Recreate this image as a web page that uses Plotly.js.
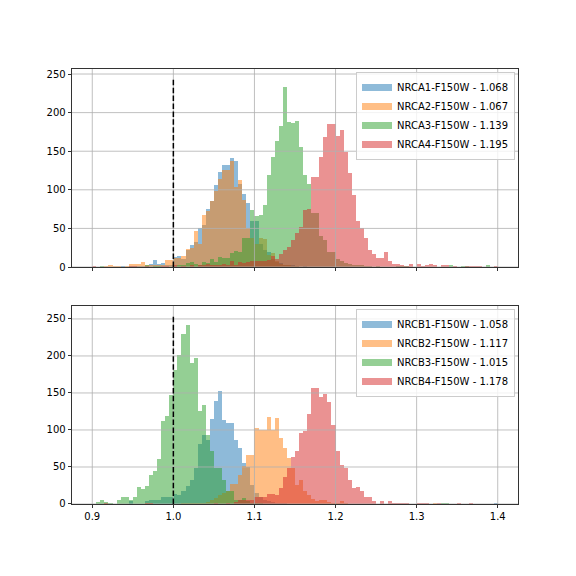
<!DOCTYPE html>
<html>
<head>
<meta charset="utf-8">
<script src="https://cdn.plot.ly/plotly-3.0.1.min.js"></script>
<style>html,body{margin:0;padding:0;background:#fff}#chart{width:576px;height:576px}</style>
</head>
<body>
<div id="chart"></div>
<script>
// ---- bin definition (shared by all histograms) ----
const binStart = 0.9;
const binWidth = 0.005;

// ---- legend labels ----
const labelsTop = ["NRCA1-F150W - 1.068", "NRCA2-F150W - 1.067", "NRCA3-F150W - 1.139", "NRCA4-F150W - 1.195"];
const labelsBottom = ["NRCB1-F150W - 1.058", "NRCB2-F150W - 1.117", "NRCB3-F150W - 1.015", "NRCB4-F150W - 1.178"];

// ---- counts per bin, top panel ----
const countsA1 = [
  0,0,0,0,0,0,0,1,0,1,
  1,1,1,1,4,9,4,5,3,3,
  13,14,10,22,28,32,50,55,75,85,
  106,123,132,132,141,137,108,94,83,60,
  60,30,22,20,10,6,5,3,2,2,
  1,0,1,0,0,0,0,0,0,0,
  0,0,0,0,0,0,0,0,0,0,
  0,0,0,0,0,0,0,0,0,0,
  0,0,0,0,0,0,0,0,0,0,
  0,0,0,0,0,0,0,0,0,0];
const countsA2 = [
  0,0,0,1,3,1,1,0,1,4,
  4,4,6,3,2,3,2,3,9,9,
  12,12,14,23,25,47,30,68,72,85,
  99,114,126,126,137,104,113,87,50,38,
  30,37,36,15,18,8,4,3,2,1,
  1,0,0,0,0,0,0,0,0,0,
  0,0,0,0,0,0,0,0,0,0,
  0,0,0,0,0,0,0,0,0,0,
  0,0,0,0,0,0,0,0,0,0,
  0,0,0,0,0,0,0,0,0,0];
const countsA3 = [
  0,0,1,0,0,0,0,0,0,0,
  0,0,0,2,0,1,1,0,0,0,
  1,3,3,5,7,4,3,6,5,10,
  6,13,12,12,18,21,20,37,37,74,
  66,67,80,119,143,163,183,233,188,186,
  189,155,119,108,70,70,40,35,20,19,
  10,8,5,4,3,2,2,1,1,0,
  1,0,0,0,0,1,1,1,0,0,
  0,0,0,0,0,0,0,0,3,0,
  0,1,1,0,0,0,0,3,0,0];
const countsA4 = [
  1,0,0,0,0,0,0,0,0,1,
  1,0,0,1,0,0,0,1,1,0,
  3,0,1,0,2,0,3,2,4,3,
  3,2,4,3,8,3,7,5,7,8,
  8,8,8,9,14,10,17,22,26,35,
  44,52,74,75,116,116,143,168,185,185,
  170,177,149,122,93,59,50,37,22,17,
  12,12,20,8,4,4,3,1,4,0,
  4,1,2,4,2,0,3,3,0,1,
  0,0,1,1,1,1,0,0,0,1];

// ---- counts per bin, bottom panel ----
const countsB1 = [
  0,0,0,0,0,0,0,0,0,4,
  0,0,0,4,5,5,5,9,9,9,
  13,12,17,24,32,49,81,93,87,115,
  139,153,114,109,109,86,76,55,50,25,
  15,10,6,4,3,2,2,1,0,0,
  0,0,0,0,0,0,0,0,0,0,
  0,0,0,0,0,0,0,0,0,0,
  0,0,0,0,0,0,0,0,0,0,
  0,0,0,0,0,0,0,0,0,0,
  0,0,0,0,0,0,0,0,0,1];
const countsB2 = [
  0,0,0,1,0,0,0,0,0,0,
  0,0,0,1,1,0,0,0,0,0,
  0,0,1,1,1,1,1,2,3,5,
  8,12,15,18,27,27,39,51,66,66,
  103,100,100,118,100,116,89,76,62,49,
  26,32,18,12,7,4,5,5,3,2,
  1,4,1,0,0,0,0,0,0,0,
  0,0,0,0,0,0,0,0,0,0,
  0,0,0,0,1,0,0,0,0,0,
  0,0,0,0,0,0,0,0,0,0];
const countsB3 = [
  0,3,5,3,1,0,5,9,9,5,
  9,23,20,24,39,45,61,112,119,147,
  181,201,230,242,191,197,126,134,93,72,
  49,49,32,18,18,5,5,8,4,2,
  1,1,0,0,0,0,0,0,0,0,
  0,0,0,0,0,0,0,0,0,0,
  0,0,0,0,0,0,0,0,0,0,
  0,0,0,0,0,0,0,0,0,0,
  0,0,0,0,0,0,1,1,0,0,
  0,0,0,0,0,0,0,0,0,0];
const countsB4 = [
  0,0,0,1,0,0,0,0,0,0,
  0,0,0,1,1,0,0,0,0,0,
  0,0,0,0,0,0,0,0,0,0,
  1,0,0,2,0,3,5,5,5,5,
  9,9,9,14,14,12,22,36,49,64,
  72,96,99,122,157,157,145,149,138,107,
  72,53,49,32,22,23,18,9,9,4,
  0,4,0,4,1,2,2,1,0,0,
  1,1,1,0,0,1,0,0,0,0,
  1,0,0,1,0,0,0,0,0,0];

// ---- reference line and axes ----
const refValue = 1.0;
const refTopA = 243.5;
const refTopB = 254;
const xTicks = [0.9, 1.0, 1.1, 1.2, 1.3, 1.4];
const yTicks = [0, 50, 100, 150, 200, 250];

const colors = ["#1f77b4", "#ff7f0e", "#2ca02c", "#d62728"];
const FONT = "DejaVu Sans, sans-serif";

const centers = countsA1.map((_, i) => binStart + binWidth * (i + 0.5));

function hexA(hex, a) {
  const r = parseInt(hex.slice(1,3),16), g = parseInt(hex.slice(3,5),16), b = parseInt(hex.slice(5,7),16);
  return `rgba(${r},${g},${b},${a})`;
}

const traces = [];
const panels = [
  {counts: [countsA1, countsA2, countsA3, countsA4], labels: labelsTop, xa: "x", ya: "y", legend: "legend"},
  {counts: [countsB1, countsB2, countsB3, countsB4], labels: labelsBottom, xa: "x2", ya: "y2", legend: "legend2"}
];
panels.forEach(p => {
  p.counts.forEach((c, k) => {
    traces.push({
      type: "bar", x: centers, y: c, width: binWidth,
      xaxis: p.xa, yaxis: p.ya,
      marker: {color: colors[k], line: {width: 0}},
      opacity: 0.5, showlegend: false, hoverinfo: "skip"
    });
  });
  // legend handles
  p.counts.forEach((c, k) => {
    traces.push({
      type: "scatter", mode: "lines", x: [null], y: [null],
      xaxis: p.xa, yaxis: p.ya, name: p.labels[k], legend: p.legend,
      line: {color: hexA(colors[k], 0.5), width: 7}, showlegend: true
    });
  });
});

// grid + reference line as shapes drawn above bars
const shapes = [];
[["x","y",refTopA],["x2","y2",refTopB]].forEach(([xa, ya, top]) => {
  yTicks.forEach(t => shapes.push({type:"line", layer:"above", xref: xa+" domain", yref: ya,
    x0:0, x1:1, y0:t, y1:t, line:{color:"#b0b0b0", width:0.8}}));
  xTicks.forEach(t => shapes.push({type:"line", layer:"above", xref: xa, yref: ya+" domain",
    x0:t, x1:t, y0:0, y1:1, line:{color:"#b0b0b0", width:0.8}}));
  shapes.push({type:"line", layer:"above", xref: xa, yref: ya,
    x0: refValue, x1: refValue, y0: 0, y1: top, line:{color:"#000", width:1.5, dash:"5.5px,2.4px"}});
});

const axCommon = {
  showgrid: false, zeroline: false, showline: true, mirror: true,
  linecolor: "#000", linewidth: 0.8, ticks: "outside", ticklen: 3.5, tickwidth: 0.8, tickcolor: "#000",
  tickfont: {family: FONT, size: 10, color: "#000"}
};

const layout = {
  width: 576, height: 576,
  margin: {l: 72, r: 58, t: 69, b: 72},
  paper_bgcolor: "#fff", plot_bgcolor: "#fff",
  font: {family: FONT, size: 10, color: "#000"},
  barmode: "overlay", bargap: 0,
  shapes: shapes,
  xaxis: Object.assign({}, axCommon, {domain: [0,1], anchor: "y", range: [0.875, 1.425], tickvals: xTicks, showticklabels: false}),
  yaxis: Object.assign({}, axCommon, {domain: [0.5448, 1], anchor: "x", range: [0, 256.5], tickvals: yTicks}),
  xaxis2: Object.assign({}, axCommon, {domain: [0,1], anchor: "y2", range: [0.875, 1.425], tickvals: xTicks, tickformat: ".1f", matches: "x"}),
  yaxis2: Object.assign({}, axCommon, {domain: [0, 0.4552], anchor: "x2", range: [0, 267.5], tickvals: yTicks}),
  legend: {x: 0.9933, y: 0.9931, xanchor: "right", yanchor: "top", bgcolor: "rgba(255,255,255,0.8)",
    bordercolor: "#cccccc", borderwidth: 1, font: {family: FONT, size: 10, color: "#000"}, itemwidth: 30},
  legend2: {x: 0.9933, y: 0.4483, xanchor: "right", yanchor: "top", bgcolor: "rgba(255,255,255,0.8)",
    bordercolor: "#cccccc", borderwidth: 1, font: {family: FONT, size: 10, color: "#000"}, itemwidth: 30}
};

Plotly.newPlot("chart", traces, layout, {staticPlot: true, displayModeBar: false});
</script>
</body>
</html>
